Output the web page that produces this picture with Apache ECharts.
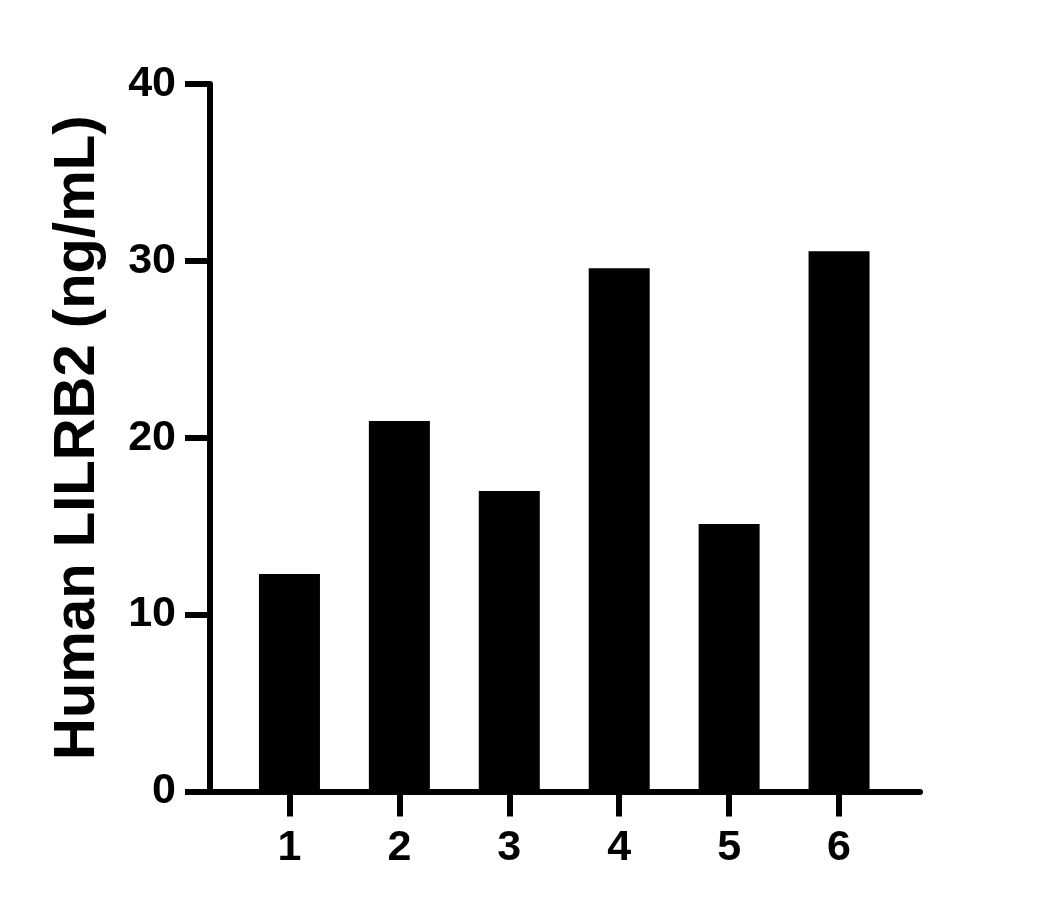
<!DOCTYPE html>
<html>
<head>
<meta charset="utf-8">
<script src="https://cdn.jsdelivr.net/npm/echarts@6/dist/echarts.min.js"></script>
<style>
html,body{margin:0;padding:0;background:#fff;}
#chart{width:1052px;height:909px;}
</style>
</head>
<body>
<div id="chart"></div>
<script>
var categories = ['1', '2', '3', '4', '5', '6'];
var values = [12.3, 20.94, 16.99, 29.58, 15.12, 30.55];
var yMin = 0, yMax = 40, yInterval = 10;
var yTitle = 'Human LILRB2 (ng/mL)';

var FONT = '"Liberation Sans", Arial, Helvetica, sans-serif';
var chart = echarts.init(document.getElementById('chart'), null, {renderer: 'canvas'});
chart.setOption({
  backgroundColor: '#ffffff',
  animation: false,
  grid: [
    {left: 210, right: 132, top: 84, bottom: 117.5},
    {left: 234.5, right: 158, top: 84, bottom: 117.5}
  ],
  xAxis: [
    {
      gridIndex: 0, type: 'value', min: 0, max: 1,
      axisLine: {show: true, lineStyle: {color: '#000', width: 6}},
      axisTick: {show: false}, axisLabel: {show: false}, splitLine: {show: false}
    },
    {
      gridIndex: 1, type: 'category', data: categories, boundaryGap: true,
      axisLine: {show: false},
      axisTick: {show: true, alignWithLabel: true, length: 25, lineStyle: {color: '#000', width: 6}},
      axisLabel: {show: true, margin: 35, color: '#000', fontSize: 43, fontWeight: 'bold', fontFamily: FONT},
      splitLine: {show: false}
    }
  ],
  yAxis: [
    {
      gridIndex: 0, type: 'value', min: yMin, max: yMax, interval: yInterval,
      name: yTitle, nameLocation: 'middle', nameGap: 103,
      nameTextStyle: {color: '#000', fontSize: 58, fontWeight: 'bold', fontFamily: FONT},
      axisLine: {show: true, lineStyle: {color: '#000', width: 6}},
      axisTick: {show: true, length: 25, lineStyle: {color: '#000', width: 6}},
      axisLabel: {show: true, margin: 34, color: '#000', fontSize: 43, fontWeight: 'bold', fontFamily: FONT},
      splitLine: {show: false}
    },
    {
      gridIndex: 1, type: 'value', min: yMin, max: yMax, interval: yInterval, show: false
    }
  ],
  series: [{
    type: 'bar', xAxisIndex: 1, yAxisIndex: 1,
    data: values, barWidth: 61,
    itemStyle: {color: '#000'}
  }]
});
</script>
</body>
</html>
